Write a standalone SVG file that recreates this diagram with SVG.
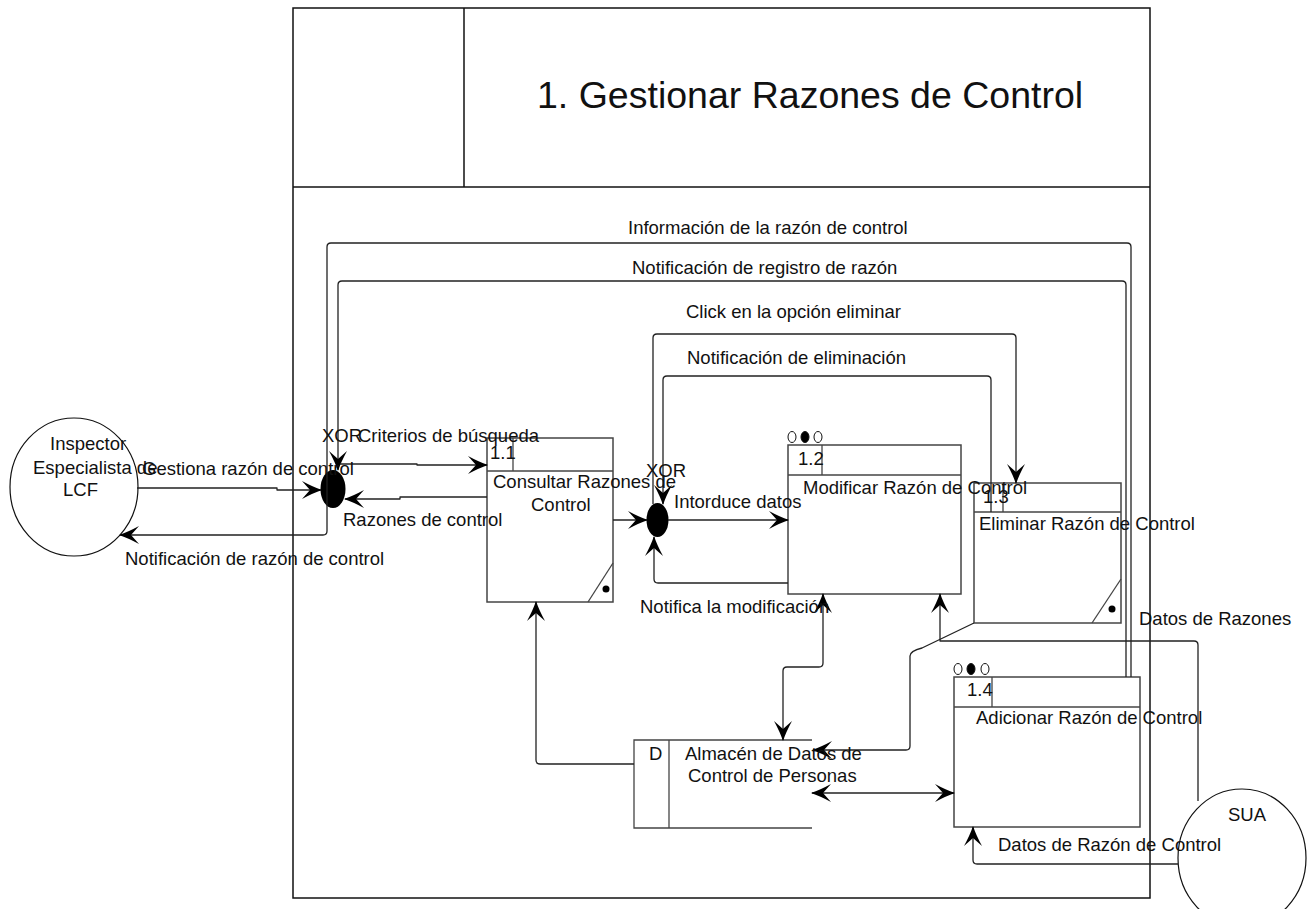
<svg xmlns="http://www.w3.org/2000/svg" width="1307" height="909" viewBox="0 0 1307 909">
  <style>
    text { font-family: "Liberation Sans", Arial, sans-serif; font-size: 18.5px; fill: #111; }
    .title { font-size: 37.5px; }
    .frame { fill: none; stroke: #111; stroke-width: 1.5; }
    .box { fill: #fff; stroke: #444; stroke-width: 1.5; }
    .sep { fill: none; stroke: #444; stroke-width: 1.3; }
    .ent { fill: #fff; stroke: #111; stroke-width: 1.2; }
    .xor { fill: #000; stroke: none; }
    .dot { fill: #fff; stroke: #111; stroke-width: 1; }
    .dot.on { fill: #000; }
    .flow { fill: none; stroke: #222; stroke-width: 1.3; stroke-linejoin: round; }
    .end { marker-end: url(#arr); }
    .both { marker-start: url(#arr); marker-end: url(#arr); }
  </style>
  <defs>
    <marker id="arr" viewBox="-22 -12 24 24" refX="0" refY="0" markerWidth="24" markerHeight="24" markerUnits="userSpaceOnUse" orient="auto-start-reverse">
      <path d="M1,0 Q-8,-3 -19,-9 L-11,0 L-19,9 Q-8,3 1,0 Z" fill="#000"/>
    </marker>
  </defs>

  <!-- diagram frame with header -->
  <g id="frame">
    <rect class="frame" x="293" y="8" width="857" height="890"/>
    <line class="frame" x1="464" y1="8" x2="464" y2="187"/>
    <line class="frame" x1="293" y1="187" x2="1150" y2="187"/>
    <text class="title" x="537" y="108">1. Gestionar Razones de Control</text>
  </g>

  <!-- external entities -->
  <g id="inspector">
    <ellipse class="ent" cx="74" cy="487" rx="64" ry="69"/>
  </g>
  <g id="sua">
    <ellipse class="ent" cx="1242" cy="858" rx="64" ry="69"/>
  </g>

  <!-- XOR gates -->
  <g id="xor1">
    <ellipse class="xor" cx="333" cy="489" rx="12.5" ry="19"/>
  </g>
  <g id="xor2">
    <ellipse class="xor" cx="657.5" cy="520" rx="11" ry="17"/>
  </g>

  <!-- processes -->
  <g id="p11">
    <rect class="box" x="487" y="438" width="126" height="164"/>
    <line class="sep" x1="487" y1="471" x2="613" y2="471"/>
    <line class="sep" x1="513" y1="438" x2="513" y2="471"/>
    <line class="sep" x1="588" y1="602" x2="613" y2="563"/>
    <circle cx="606" cy="589" r="3.5" fill="#000"/>
  </g>
  <g id="p12">
    <ellipse class="dot" cx="792" cy="437" rx="4" ry="5.5"/>
    <ellipse class="dot on" cx="805" cy="437" rx="4" ry="5.5"/>
    <ellipse class="dot" cx="818" cy="437" rx="4" ry="5.5"/>
    <rect class="box" x="788" y="445" width="173" height="149"/>
    <line class="sep" x1="788" y1="475" x2="961" y2="475"/>
    <line class="sep" x1="822" y1="445" x2="822" y2="475"/>
  </g>
  <g id="p13">
    <rect class="box" x="974" y="483" width="147" height="140"/>
    <line class="sep" x1="974" y1="512" x2="1121" y2="512"/>
    <line class="sep" x1="1003" y1="483" x2="1003" y2="512"/>
    <line class="sep" x1="1092" y1="623" x2="1121" y2="579"/>
    <circle cx="1112" cy="609" r="3.5" fill="#000"/>
  </g>
  <g id="p14">
    <ellipse class="dot" cx="958" cy="669" rx="4" ry="5.5"/>
    <ellipse class="dot on" cx="971" cy="669" rx="4" ry="5.5"/>
    <ellipse class="dot" cx="985" cy="669" rx="4" ry="5.5"/>
    <rect class="box" x="954" y="677" width="186" height="150"/>
    <line class="sep" x1="954" y1="707" x2="1140" y2="707"/>
    <line class="sep" x1="992" y1="677" x2="992" y2="707"/>
  </g>

  <!-- data store -->
  <g id="store">
    <path class="sep" d="M812,740 H634 V828 H812"/>
    <line class="sep" x1="669" y1="740" x2="669" y2="828"/>
  </g>

  <!-- data flows -->
  <g id="flows">
    <path class="flow end" d="M137,488 H277 V490 H321"/>
    <path class="flow end" d="M1131,677 V247 Q1131,243 1127,243 H331 Q327,243 327,247 V531 Q327,535 323,535 H120"/>
    <path class="flow end" d="M1126,677 V285 Q1126,281 1122,281 H342 Q338,281 338,285 V470"/>
    <path class="flow end" d="M340,464 H417 V465 H487"/>
    <path class="flow end" d="M487,497 H400 V499 H345"/>
    <path class="flow end" d="M613,520 H647"/>
    <path class="flow end" d="M668,520 H788"/>
    <path class="flow end" d="M788,583 H658 Q654,583 654,579 V537"/>
    <path class="flow end" d="M653,504 V338 Q653,334 657,334 H1012 Q1016,334 1016,338 V483"/>
    <path class="flow end" d="M991,512 V380 Q991,376 987,376 H667 Q663,376 663,380 V504"/>
    <path class="flow end" d="M634,764 H540 Q536,764 536,760 V602"/>
    <path class="flow both" d="M783,740 V671 Q783,667 787,667 H819 Q823,667 823,663 V594"/>
    <path class="flow both" d="M812,793 H954"/>
    <path class="flow end" d="M974,623 L922,648 Q910,651 910,656 V746 Q910,750 906,750 H813"/>
    <path class="flow end" d="M1198,801 V645 Q1198,641 1194,641 H940 V594"/>
    <path class="flow end" d="M1178,864 H977 Q973,864 973,860 V827"/>
  </g>

  <!-- labels -->
  <g id="labels">
    <text x="50" y="450">Inspector</text>
    <text x="33" y="474">Especialista de</text>
    <text x="63" y="496">LCF</text>
    <text x="142" y="475">Gestiona razón de control</text>
    <text x="125" y="565">Notificación de razón de control</text>
    <text x="322" y="442">XOR</text>
    <text x="358" y="442">Criterios de búsqueda</text>
    <text x="343" y="526">Razones de control</text>
    <text x="628" y="234">Información de la razón de control</text>
    <text x="632" y="274">Notificación de registro de razón</text>
    <text x="686" y="318">Click en la opción eliminar</text>
    <text x="687" y="364">Notificación de eliminación</text>
    <text x="490" y="459">1.1</text>
    <text x="493" y="488">Consultar Razones de</text>
    <text x="531" y="511">Control</text>
    <text x="646" y="477">XOR</text>
    <text x="674" y="508">Intorduce datos</text>
    <text x="798" y="465">1.2</text>
    <text x="803" y="494">Modificar Razón de Control</text>
    <text x="983" y="503">1.3</text>
    <text x="979" y="530">Eliminar Razón de Control</text>
    <text x="640" y="613">Notifica la modificación</text>
    <text x="1139" y="625">Datos de Razones</text>
    <text x="967" y="696">1.4</text>
    <text x="976" y="724">Adicionar Razón de Control</text>
    <text x="649" y="760">D</text>
    <text x="685" y="760">Almacén de Datos de</text>
    <text x="688" y="782">Control de Personas</text>
    <text x="1228" y="821">SUA</text>
    <text x="998" y="851">Datos de Razón de Control</text>
  </g>
</svg>
